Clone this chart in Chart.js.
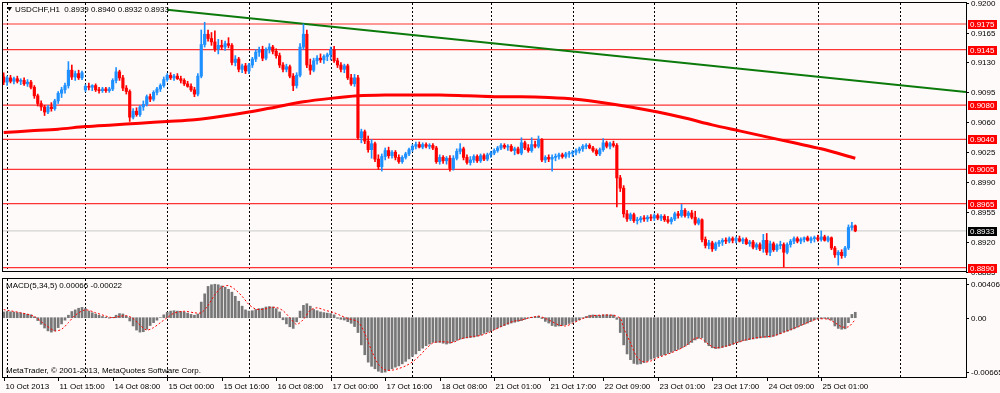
<!DOCTYPE html>
<html>
<head>
<meta charset="utf-8">
<script src="https://cdn.jsdelivr.net/npm/chart.js@4.4.1/dist/chart.umd.min.js"></script>
<style>
  html, body { margin: 0; padding: 0; background: #fffafa; }
  #wrap { position: relative; width: 1000px; height: 393px; overflow: hidden; }
  #wrap canvas { position: absolute; left: 0; top: 0; }
</style>
</head>
<body>
<div id="wrap">
  <canvas id="priceChart" width="1000" height="393"></canvas>
  <canvas id="macdChart" width="1000" height="393"></canvas>
</div>
<script>
// USDCHF H1 candles, in pips (9113 = 0.9113), bar 0 = 10 Oct 23:00
var opens = [
  9113,9107,9112,9108,9111,9108,9109,9105,9107,9101, 9091,9082,9078,9072,9078,9076,9085,9094,9098,9103,
  9121,9113,9117,9112,9098,9102,9101,9103,9098,9097, 9099,9097,9099,9109,9119,9112,9100,9096,9066,9073,
  9069,9078,9081,9090,9087,9095,9099,9103,9110,9115, 9112,9114,9111,9109,9105,9102,9098,9093,9114,9151,
  9163,9158,9154,9146,9150,9148,9152,9150,9130,9134, 9122,9126,9120,9127,9134,9142,9145,9135,9145,9148,
  9143,9138,9127,9122,9125,9114,9103,9115,9148,9163, 9127,9121,9132,9135,9133,9137,9139,9145,9132,9127,
  9122,9126,9112,9105,9112,9042,9049,9038,9028,9035, 9017,9008,9020,9027,9021,9025,9019,9014,9019,9023,
  9028,9032,9034,9031,9034,9032,9033,9030,9014,9019, 9015,9018,9006,9018,9026,9029,9019,9013,9016,9020,
  9015,9021,9017,9022,9024,9027,9030,9033,9031,9032, 9027,9029,9024,9036,9030,9027,9034,9032,9040,9016,
  9019,9017,9019,9020,9022,9020,9023,9024,9025,9027, 9029,9032,9033,9030,9027,9023,9028,9036,9032,9035,
  9033,8995,8983,8953,8947,8952,8945,8946,8948,8947, 8949,8948,8951,8948,8950,8946,8944,8947,8953,8951,
  8957,8951,8954,8949,8942,8946,8923,8916,8919,8912, 8918,8920,8922,8921,8924,8922,8924,8921,8923,8918,
  8920,8914,8917,8912,8922,8908,8918,8911,8916,8917, 8908,8917,8921,8924,8921,8923,8925,8922,8924,8925,
  8923,8926,8922,8925,8913,8905,8908,8904,8913,8937, 8939
];
var highs = [
  9118,9114,9115,9113,9114,9111,9112,9110,9109,9103, 9093,9085,9080,9080,9083,9087,9096,9101,9106,9131,
  9127,9120,9121,9120,9104,9106,9104,9105,9101,9101, 9101,9101,9111,9124,9121,9115,9103,9098,9076,9077,
  9080,9085,9092,9093,9097,9101,9105,9113,9117,9118, 9116,9117,9114,9111,9108,9105,9101,9117,9168,9177,
  9168,9165,9167,9157,9156,9155,9159,9152,9138,9136, 9128,9129,9129,9136,9145,9148,9149,9147,9152,9150,
  9146,9141,9130,9128,9127,9117,9118,9152,9175,9168, 9134,9135,9138,9140,9139,9141,9148,9149,9135,9130,
  9128,9128,9116,9116,9115,9052,9051,9044,9040,9037, 9022,9023,9030,9031,9027,9027,9022,9021,9025,9030,
  9034,9037,9037,9036,9036,9035,9035,9032,9022,9021, 9020,9021,9021,9029,9035,9031,9022,9020,9022,9022,
  9023,9023,9024,9026,9029,9032,9035,9035,9034,9034, 9031,9031,9042,9038,9034,9042,9038,9044,9041,9021,
  9022,9022,9023,9024,9024,9025,9026,9027,9029,9031, 9034,9035,9035,9032,9029,9030,9041,9038,9037,9038,
  9035,8998,8986,8957,8954,8954,8949,8950,8951,8951, 8952,8953,8953,8952,8952,8950,8949,8955,8956,8964,
  8959,8956,8957,8956,8948,8947,8926,8922,8921,8920, 8922,8924,8925,8926,8926,8926,8927,8925,8925,8922,
  8922,8919,8919,8929,8930,8921,8920,8918,8921,8919, 8919,8923,8926,8926,8925,8926,8927,8926,8927,8928,
  8933,8928,8927,8926,8915,8910,8911,8915,8940,8943, 8940
];
var lows = [
  9104,9103,9106,9105,9106,9104,9103,9102,9099,9088, 9079,9074,9068,9070,9073,9074,9082,9089,9094,9100,
  9110,9109,9110,9110,9096,9098,9097,9096,9094,9095, 9095,9095,9097,9106,9109,9097,9093,9061,9064,9067,
  9067,9074,9079,9084,9085,9092,9096,9101,9108,9110, 9109,9110,9106,9103,9101,9096,9090,9091,9112,9148,
  9155,9150,9143,9140,9145,9144,9147,9127,9126,9119, 9118,9117,9117,9124,9131,9137,9132,9133,9141,9140,
  9135,9124,9119,9119,9112,9097,9100,9113,9145,9124, 9116,9119,9128,9130,9129,9132,9133,9130,9124,9119,
  9118,9110,9103,9102,9040,9036,9035,9025,9018,9014, 9005,9003,9016,9018,9018,9016,9012,9012,9017,9021,
  9026,9029,9030,9029,9030,9029,9028,9012,9011,9012, 9011,9003,9004,9016,9023,9016,9011,9010,9013,9013,
  9013,9015,9015,9019,9022,9025,9028,9029,9027,9026, 9022,9023,9022,9028,9025,9025,9030,9030,9014,9013,
  9014,9003,9015,9017,9018,9018,9019,9020,9022,9024, 9026,9029,9029,9025,9021,9021,9026,9030,9029,9031,
  8961,8979,8949,8944,8945,8943,8941,8943,8944,8944, 8945,8945,8946,8945,8944,8942,8941,8945,8948,8949,
  8949,8948,8947,8940,8940,8920,8913,8912,8909,8910, 8915,8916,8918,8919,8919,8919,8920,8918,8917,8915,
  8912,8911,8910,8908,8905,8904,8909,8909,8912,8891, 8906,8914,8918,8919,8918,8920,8921,8919,8920,8921,
  8921,8921,8920,8911,8902,8893,8901,8902,8911,8934, 8932
];
var closes = [
  9107,9112,9108,9111,9108,9109,9105,9107,9101,9091, 9082,9078,9072,9078,9076,9085,9094,9098,9103,9121,
  9113,9117,9112,9118,9102,9101,9103,9098,9097,9099, 9097,9099,9109,9119,9112,9100,9096,9066,9073,9069,
  9078,9081,9090,9087,9095,9099,9103,9110,9115,9112, 9114,9111,9109,9105,9102,9098,9093,9114,9151,9163,
  9158,9154,9146,9150,9148,9152,9150,9130,9134,9122, 9126,9120,9127,9134,9142,9145,9135,9145,9148,9143,
  9138,9127,9122,9125,9114,9103,9115,9148,9163,9127, 9121,9132,9135,9133,9137,9139,9145,9132,9127,9122,
  9126,9112,9105,9112,9042,9049,9038,9028,9035,9017, 9008,9020,9027,9021,9025,9019,9014,9019,9023,9028,
  9032,9034,9031,9034,9032,9033,9030,9014,9019,9015, 9018,9006,9018,9026,9029,9019,9013,9016,9020,9015,
  9021,9017,9022,9024,9027,9030,9033,9031,9032,9027, 9029,9024,9036,9030,9027,9034,9032,9040,9016,9019,
  9017,9019,9020,9022,9020,9023,9024,9025,9027,9029, 9032,9033,9030,9027,9023,9028,9036,9032,9035,9033,
  8995,8983,8953,8947,8952,8945,8946,8948,8947,8949, 8948,8951,8948,8950,8946,8944,8947,8953,8951,8957,
  8951,8954,8949,8942,8946,8923,8916,8919,8912,8918, 8920,8922,8921,8924,8922,8924,8921,8923,8918,8920,
  8914,8917,8912,8922,8908,8918,8911,8916,8917,8908, 8917,8921,8924,8921,8923,8925,8922,8924,8925,8923,
  8926,8922,8925,8913,8905,8908,8904,8913,8937,8939, 8933
];

// moving average (red), read at a few bars
var maBars   = [0, 8, 16, 24, 32, 40, 48, 56, 64, 72, 80, 88, 96, 104, 112, 120, 128, 136, 144, 152, 160, 168, 176, 184, 192, 200, 208, 216, 224, 232, 240, 250];
var maValues = [9048, 9050, 9052, 9055, 9057, 9059, 9061, 9063, 9067, 9072, 9078, 9084, 9088, 9091, 9092, 9092, 9092, 9091, 9090, 9090, 9089, 9087, 9083, 9078, 9072, 9065, 9057, 9050, 9043, 9036, 9029, 9018];

// green trend line
var trendBars = [48, 282.5];
var trendValues = [9191.5, 9095.5];

var levelPrices = [9175, 9145, 9080, 9040, 9005, 8965, 8890];
var bidPrice = 8933;
var priceTicks = [9200, 9165, 9130, 9095, 9060, 9025, 8990, 8955, 8920, 8885];

// MACD(5,34,5) histogram, in 0.00001
var macdHist = [
  70,75,72,68,62,58,50,42,35,10, -35,-80,-125,-160,-175,-160,-120,-75,-30,30,
  75,95,115,125,110,80,60,45,30,15, 5,-5,5,30,50,45,20,-40,-100,-150,
  -175,-170,-140,-95,-60,-30,0,35,65,80, 85,80,75,70,55,40,30,45,190,290,
  380,400,406,400,385,370,345,310,260,200, 140,95,80,85,100,110,115,130,135,130,
  110,70,-25,-75,-110,-130,-50,80,150,170, 140,100,85,70,62,55,50,35,-8,-20,
  -28,-48,-68,-107,-180,-330,-450,-540,-590,-620, -650,-665,-660,-640,-620,-600,-585,-560,-530,-500,
  -470,-440,-400,-370,-340,-320,-300,-300,-300,-310, -320,-310,-290,-275,-260,-250,-245,-240,-235,-225,
  -210,-190,-175,-160,-145,-125,-110,-95,-80,-65, -55,-45,-35,-20,-5,5,12,18,-10,-45,
  -65,-95,-105,-100,-95,-85,-70,-55,-40,-25, -5,15,30,33,30,28,35,35,33,32,
  -20,-180,-330,-440,-510,-555,-565,-560,-545,-525, -505,-490,-475,-460,-450,-435,-420,-400,-385,-365,
  -345,-325,-300,-270,-250,-245,-300,-340,-365,-375, -370,-360,-350,-340,-325,-305,-295,-280,-275,-265,
  -258,-250,-245,-240,-238,-235,-225,-210,-195,-175, -165,-150,-135,-115,-95,-80,-65,-45,-25,-15,
  -10,-8,-15,-30,-100,-130,-140,-135,-60,40, 66
];
// signal line (dotted red), read at a few bars
var signalBars = [0, 5, 9, 12, 15, 17, 19, 21, 24, 27, 30, 32, 34, 36, 38, 40, 42, 44, 46, 48, 50, 53, 56, 58, 60, 62, 64, 66, 68, 70, 72, 74, 76, 78, 80, 82, 84, 86, 88, 90, 92, 94, 97, 99, 101, 104, 106, 108, 110, 112, 114, 116, 118, 120, 122, 124, 126, 128, 130, 132, 134, 136, 138, 140, 142, 144, 146, 148, 150, 152, 154, 156, 157, 159, 161, 163, 165, 167, 169, 171, 173, 176, 179, 181, 182, 184, 186, 188, 190, 192, 196, 200, 203, 205, 207, 209, 212, 215, 218, 222, 226, 230, 234, 237, 239, 242, 244, 246, 248, 250];
var signalValues = [98, 60, 15, -80, -160, -140, -60, 30, 95, 60, 20, 0, 15, 25, -10, -90, -150, -120, -60, 0, 55, 78, 60, 60, 150, 280, 370, 390, 340, 260, 160, 105, 100, 120, 125, 85, 0, -80, -20, 90, 120, 95, 60, 25, -10, -50, -190, -400, -565, -633, -637, -617, -585, -537, -466, -378, -306, -291, -295, -299, -259, -240, -227, -215, -187, -147, -107, -68, -40, -28, -4, 12, 20, -8, -48, -88, -100, -68, -28, 4, 24, 32, 28, -8, -127, -306, -486, -537, -525, -486, -426, -346, -250, -260, -326, -366, -346, -306, -267, -238, -220, -160, -95, -40, -16, -18, -60, -110, -110, -22];
var macdTicks = [406, 0, -665];

// day separators and time axis
var dayStarts = [1, 24, 48, 72, 96, 120, 143, 167, 191, 215, 239, 263];
var timeLabelBars = [0, 16, 32, 48, 64, 80, 96, 112, 128, 144, 160, 176, 192, 208, 224, 240];
var timeLabels = ['10 Oct 2013', '11 Oct 15:00', '14 Oct 08:00', '15 Oct 00:00', '15 Oct 16:00', '16 Oct 08:00',
  '17 Oct 00:00', '17 Oct 16:00', '18 Oct 08:00', '21 Oct 01:00', '21 Oct 17:00', '22 Oct 09:00',
  '23 Oct 01:00', '23 Oct 17:00', '24 Oct 09:00', '25 Oct 01:00'];

var FONT = '8px "Liberation Sans", Arial, sans-serif';
var AXIS_X = 966;

function pip(v) { return v / 10000; }
function candleColor(ctx) {
  var i = ctx.dataIndex;
  return closes[i] >= opens[i] ? '#1e90ff' : '#ff0000';
}
function xScale() {
  return { type: 'linear', min: -0.2, max: 282.5, display: false, offset: false };
}

function drawSeparators(chart) {
  var ctx = chart.ctx, a = chart.chartArea, xs = chart.scales.x;
  ctx.save();
  ctx.strokeStyle = '#000000';
  ctx.lineWidth = 1;
  ctx.setLineDash([2, 2]);
  dayStarts.forEach(function (b) {
    var x = Math.round(xs.getPixelForValue(b)) + 0.5;
    ctx.beginPath();
    ctx.moveTo(x, a.top);
    ctx.lineTo(x, a.bottom);
    ctx.stroke();
  });
  ctx.restore();
}

function drawFrame(ctx, top, bottom) {
  ctx.save();
  ctx.strokeStyle = '#000000';
  ctx.lineWidth = 1;
  ctx.strokeRect(2.5, top + 0.5, AXIS_X - 2, bottom - top);
  ctx.restore();
}

function labelBox(ctx, y, text, color) {
  ctx.fillStyle = color;
  ctx.fillRect(968, Math.round(y) - 4, 29, 9);
  ctx.fillStyle = '#ffffff';
  ctx.fillText(text, 970, Math.round(y) + 0.5);
}

var pricePlugin = {
  id: 'pricePlugin',
  beforeDatasetsDraw: drawSeparators,
  afterDraw: function (chart) {
    var ctx = chart.ctx, ys = chart.scales.y;
    drawFrame(ctx, 2, 271);
    ctx.save();
    ctx.font = FONT;
    ctx.textBaseline = 'middle';
    ctx.strokeStyle = '#000000';
    ctx.fillStyle = '#000000';
    priceTicks.forEach(function (p) {
      var y = Math.round(ys.getPixelForValue(pip(p))) + 0.5;
      ctx.beginPath();
      ctx.moveTo(AXIS_X, y);
      ctx.lineTo(AXIS_X + 3, y);
      ctx.stroke();
      ctx.fillText(pip(p).toFixed(4), 971, y);
    });
    levelPrices.forEach(function (p) {
      labelBox(ctx, ys.getPixelForValue(pip(p)), pip(p).toFixed(4), '#ff0000');
    });
    labelBox(ctx, ys.getPixelForValue(pip(bidPrice)), pip(bidPrice).toFixed(4), '#000000');

    // title
    ctx.fillStyle = '#000000';
    ctx.beginPath();
    ctx.moveTo(7, 7);
    ctx.lineTo(12, 7);
    ctx.lineTo(9.5, 11);
    ctx.closePath();
    ctx.fill();
    ctx.fillText('USDCHF,H1  0.8939 0.8940 0.8932 0.8933', 15, 9.5);
    ctx.restore();
  }
};

var macdPlugin = {
  id: 'macdPlugin',
  beforeDatasetsDraw: drawSeparators,
  afterDraw: function (chart) {
    var ctx = chart.ctx, ys = chart.scales.y, xs = chart.scales.x;
    drawFrame(ctx, 278, 377);
    ctx.save();
    ctx.font = FONT;
    ctx.textBaseline = 'middle';
    ctx.strokeStyle = '#000000';
    ctx.fillStyle = '#000000';
    macdTicks.forEach(function (v) {
      var y = Math.round(ys.getPixelForValue(v / 100000)) + 0.5;
      ctx.beginPath();
      ctx.moveTo(AXIS_X, y);
      ctx.lineTo(AXIS_X + 3, y);
      ctx.stroke();
      ctx.fillText(v === 0 ? '0.00' : (v / 100000).toFixed(5), 971, y);
    });
    timeLabelBars.forEach(function (b, k) {
      var x = Math.round(xs.getPixelForValue(b)) + 0.5;
      ctx.beginPath();
      ctx.moveTo(x, 377);
      ctx.lineTo(x, 381);
      ctx.stroke();
      ctx.fillText(timeLabels[k], x + 1, 387);
    });
    ctx.fillText('MACD(5,34,5) 0.00066 -0.00022', 6, 286);
    ctx.fillText('MetaTrader, \u00a9 2001-2013, MetaQuotes Software Corp.', 6, 371);
    ctx.restore();
  }
};

var lineBase = { type: 'line', pointRadius: 0, fill: false };

var priceDatasets = [
  {
    type: 'bar', order: 0, grouped: false, barThickness: 2.5, minBarLength: 1,
    data: opens.map(function (o, i) { return { x: i, y: [pip(o), pip(closes[i])] }; }),
    backgroundColor: candleColor
  },
  {
    type: 'bar', order: 1, grouped: false, barThickness: 1,
    data: lows.map(function (l, i) { return { x: i, y: [pip(l), pip(highs[i])] }; }),
    backgroundColor: candleColor
  },
  Object.assign({}, lineBase, {
    order: 2, borderColor: '#ff0000', borderWidth: 3, tension: 0.3,
    data: maBars.map(function (b, k) { return { x: b, y: pip(maValues[k]) }; })
  }),
  Object.assign({}, lineBase, {
    order: 3, borderColor: '#0b7a0b', borderWidth: 2,
    data: trendBars.map(function (b, k) { return { x: b, y: pip(trendValues[k]) }; })
  }),
  Object.assign({}, lineBase, {
    order: 6, borderColor: '#c8c8c8', borderWidth: 1,
    data: [{ x: -1, y: pip(bidPrice) }, { x: 300, y: pip(bidPrice) }]
  })
].concat(levelPrices.map(function (p) {
  return Object.assign({}, lineBase, {
    order: 5, borderColor: '#ff3333', borderWidth: 1.2,
    data: [{ x: -1, y: pip(p) }, { x: 300, y: pip(p) }]
  });
}));

new Chart(document.getElementById('priceChart'), {
  type: 'bar',
  data: { datasets: priceDatasets },
  options: {
    responsive: false,
    devicePixelRatio: 1,
    animation: false,
    events: [],
    layout: { padding: { left: 3, right: 1000 - AXIS_X, top: 3, bottom: 393 - 271 } },
    scales: {
      x: xScale(),
      y: { type: 'linear', min: 0.888612, max: 0.919953, display: false }
    },
    plugins: { legend: { display: false }, tooltip: { enabled: false }, title: { display: false } }
  },
  plugins: [pricePlugin]
});

new Chart(document.getElementById('macdChart'), {
  type: 'bar',
  data: {
    datasets: [
      {
        type: 'bar', order: 1, grouped: false, barThickness: 2,
        data: macdHist.map(function (v, i) { return { x: i, y: v / 100000 }; }),
        backgroundColor: '#777777'
      },
      Object.assign({}, lineBase, {
        order: 0, borderColor: '#ff0000', borderWidth: 1, borderDash: [2, 2], tension: 0.3,
        data: signalBars.map(function (b, k) { return { x: b, y: signalValues[k] / 100000 }; })
      })
    ]
  },
  options: {
    responsive: false,
    devicePixelRatio: 1,
    animation: false,
    events: [],
    layout: { padding: { left: 3, right: 1000 - AXIS_X, top: 279, bottom: 393 - 377 } },
    scales: {
      x: xScale(),
      y: { type: 'linear', min: -0.0072, max: 0.0047, display: false }
    },
    plugins: { legend: { display: false }, tooltip: { enabled: false }, title: { display: false } }
  },
  plugins: [macdPlugin]
});
</script>
</body>
</html>
